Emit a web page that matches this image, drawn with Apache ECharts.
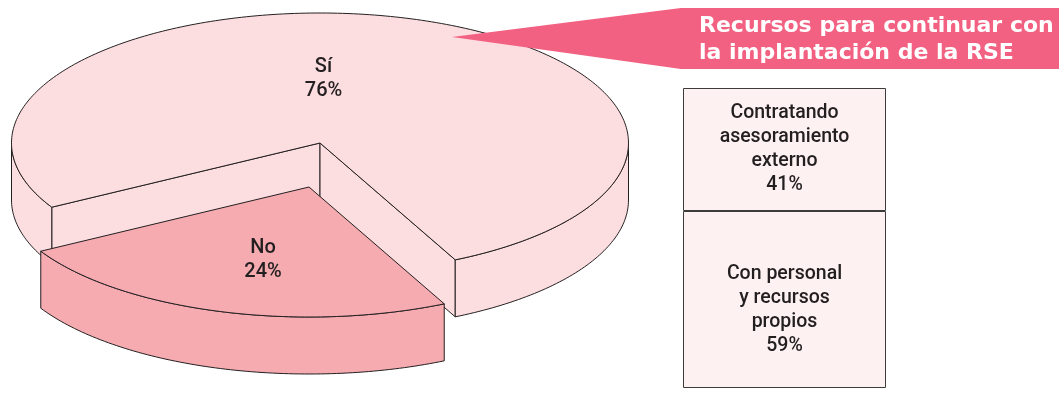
<!DOCTYPE html>
<html>
<head>
<meta charset="utf-8">
<script src="https://cdn.jsdelivr.net/npm/echarts@6/dist/echarts.min.js"></script>
<style>
html, body { margin: 0; padding: 0; background: #ffffff; }
#chart { width: 1059px; height: 407px; }
</style>
</head>
<body>
<div id="chart"></div>
<script>
// datos
const pieNames = ['Sí', 'No'];
const pieValues = [76, 24];
const boxNames = ['Contratando\nasesoramiento\nexterno', 'Con personal\ny recursos\npropios'];
const boxValues = [41, 59];
const titleLines = ['Recursos para continuar con', 'la implantación de la RSE'];

// geometria de la tarta 3D (pixeles)
const pieGeo = { cx: 320, cy: 143, rx: 308.5, ry: 130, depth: 57, start: 150.4 };
const pieColors = ['#fcdde0', '#f5abb0'];
const pieShift = [[0, 0], [-11, 44]];
const pieLabelPos = [[3.5, -64], [-46, 72.5]];
const boxLabelOffset = [[0, 0], [0, 11]];
const textFont = 'Roboto';

const pieTotal = pieValues.reduce((a, b) => a + b, 0);

function sliceRange(i) {
    let acc = 0;
    for (let k = 0; k < i; k++) acc += pieValues[k];
    const t0 = pieGeo.start + acc / pieTotal * 360;
    return [t0, t0 + pieValues[i] / pieTotal * 360];
}

function pt(t, ox, oy, dz) {
    const r = t * Math.PI / 180;
    return [pieGeo.cx + ox + pieGeo.rx * Math.cos(r), pieGeo.cy + oy + pieGeo.ry * Math.sin(r) + dz];
}

function arc(a, b, ox, oy, dz) {
    const pts = [];
    const n = Math.max(2, Math.ceil(Math.abs(b - a)));
    for (let j = 0; j <= n; j++) pts.push(pt(a + (b - a) * j / n, ox, oy, dz));
    return pts;
}

function renderSlice(params, api) {
    const i = params.dataIndex;
    const [t0, t1] = sliceRange(i);
    const [ox, oy] = pieShift[i];
    const d = pieGeo.depth;
    const style = { fill: pieColors[i], stroke: '#231f20', lineWidth: 1 };
    const c = [pieGeo.cx + ox, pieGeo.cy + oy];
    const children = [];
    const wall = t => ({
        type: 'polygon',
        shape: { points: [c, pt(t, ox, oy, 0), pt(t, ox, oy, d), [c[0], c[1] + d]] },
        style: style
    });
    // paredes del corte que miran al frente
    if (Math.sin((t0 - 90) * Math.PI / 180) > 0) children.push(wall(t0));
    if (Math.sin((t1 + 90) * Math.PI / 180) > 0) children.push(wall(t1));
    // lateral exterior visible
    for (let k = Math.floor(t0 / 360) - 1; k <= Math.ceil(t1 / 360); k++) {
        const a = Math.max(t0, k * 360), b = Math.min(t1, k * 360 + 180);
        if (b > a) {
            children.push({
                type: 'polygon',
                shape: { points: arc(a, b, ox, oy, 0).concat(arc(b, a, ox, oy, d)) },
                style: style
            });
        }
    }
    // cara superior
    children.push({ type: 'polygon', shape: { points: [c].concat(arc(t0, t1, ox, oy, 0)) }, style: style });
    const [lx, ly] = pieLabelPos[i];
    children.push({
        type: 'text',
        style: {
            text: pieNames[i] + '\n' + api.value(0) + '%',
            x: c[0] + lx,
            y: c[1] + ly,
            align: 'center',
            verticalAlign: 'middle',
            font: '500 20px ' + textFont,
            lineHeight: 24,
            fill: '#231f20'
        }
    });
    return { type: 'group', children: children };
}

let myChart = echarts.init(document.getElementById('chart'));

let option = {
    animation: false,
    graphic: [
        { type: 'polygon', z: 10, shape: { points: [[452, 37], [681, 8], [681, 69]] }, style: { fill: '#f26181' } },
        { type: 'rect', z: 10, shape: { x: 680, y: 8, width: 400, height: 61 }, style: { fill: '#f26181' } },
        {
            type: 'text', z: 11, x: 699, y: 40,
            style: {
                text: titleLines.join('\n'),
                fill: '#ffffff',
                font: 'bold 22px "DejaVu Sans"',
                lineHeight: 27,
                verticalAlign: 'middle'
            }
        }
    ],
    grid: { left: 683, top: 88, width: 203, height: 300 },
    xAxis: { type: 'category', data: ['Recursos'], show: false },
    yAxis: { type: 'value', min: 0, max: 100, inverse: true, show: false },
    series: [
        {
            type: 'custom',
            coordinateSystem: 'none',
            data: pieValues,
            renderItem: renderSlice
        }
    ].concat(boxValues.map((v, i) => ({
        type: 'bar',
        stack: 'recursos',
        name: boxNames[i],
        data: [v],
        barWidth: '100%',
        itemStyle: { color: '#fdf1f1', borderColor: '#3c3c3c', borderWidth: 1 },
        label: {
            show: true,
            position: 'inside',
            offset: boxLabelOffset[i],
            formatter: p => p.seriesName + '\n' + p.value + '%',
            fontFamily: textFont,
            fontWeight: 500,
            fontSize: 19.5,
            lineHeight: 24,
            color: '#231f20'
        }
    })))
};

myChart.setOption(option);
</script>
</body>
</html>
